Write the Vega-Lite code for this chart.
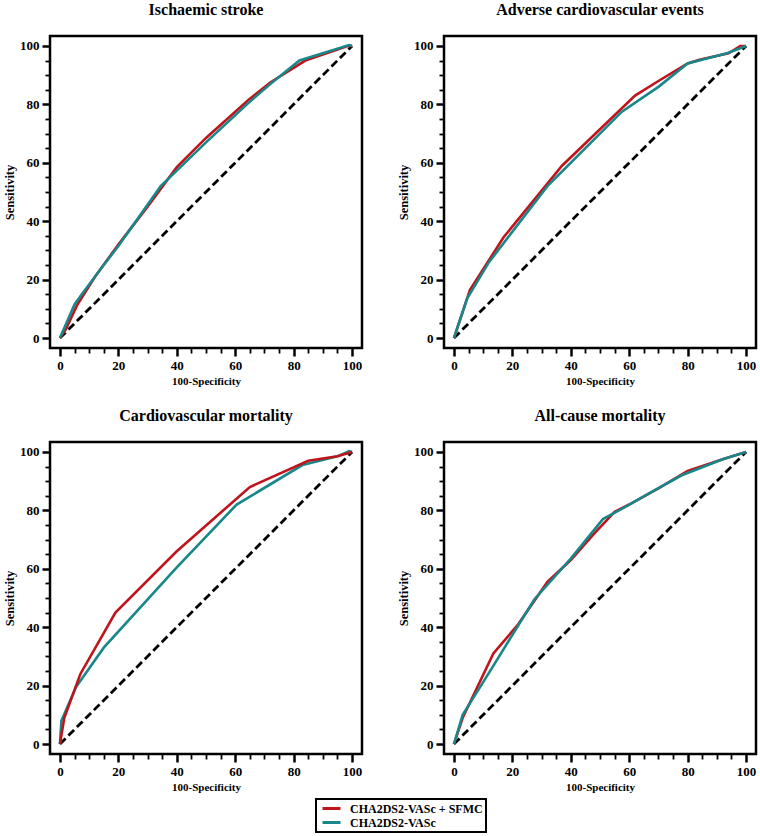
{
  "$schema": "https://vega.github.io/schema/vega-lite/v6.json",
  "padding": {"left": 2, "top": 0, "right": 0, "bottom": 0},
  "background": "white",
  "datasets": {
    "diag": [{"x": 0, "y": 0}, {"x": 100, "y": 100}],
    "roc": [
      {"p": "IS", "s": "CHA2DS2-VASc + SFMC", "x": 0, "y": 0},
      {"p": "IS", "s": "CHA2DS2-VASc + SFMC", "x": 2, "y": 3},
      {"p": "IS", "s": "CHA2DS2-VASc + SFMC", "x": 6, "y": 11.5},
      {"p": "IS", "s": "CHA2DS2-VASc + SFMC", "x": 12, "y": 21},
      {"p": "IS", "s": "CHA2DS2-VASc + SFMC", "x": 20, "y": 32},
      {"p": "IS", "s": "CHA2DS2-VASc + SFMC", "x": 30, "y": 45},
      {"p": "IS", "s": "CHA2DS2-VASc + SFMC", "x": 40, "y": 58.5},
      {"p": "IS", "s": "CHA2DS2-VASc + SFMC", "x": 50, "y": 68.5},
      {"p": "IS", "s": "CHA2DS2-VASc + SFMC", "x": 64.5, "y": 81.5},
      {"p": "IS", "s": "CHA2DS2-VASc + SFMC", "x": 72, "y": 87.5},
      {"p": "IS", "s": "CHA2DS2-VASc + SFMC", "x": 84, "y": 95},
      {"p": "IS", "s": "CHA2DS2-VASc + SFMC", "x": 98.5, "y": 100},
      {"p": "IS", "s": "CHA2DS2-VASc + SFMC", "x": 100, "y": 100},
      {"p": "IS", "s": "CHA2DS2-VASc", "x": 0, "y": 0},
      {"p": "IS", "s": "CHA2DS2-VASc", "x": 5, "y": 11.5},
      {"p": "IS", "s": "CHA2DS2-VASc", "x": 7.5, "y": 15},
      {"p": "IS", "s": "CHA2DS2-VASc", "x": 15, "y": 25},
      {"p": "IS", "s": "CHA2DS2-VASc", "x": 20, "y": 31.5},
      {"p": "IS", "s": "CHA2DS2-VASc", "x": 34.5, "y": 52},
      {"p": "IS", "s": "CHA2DS2-VASc", "x": 50, "y": 67},
      {"p": "IS", "s": "CHA2DS2-VASc", "x": 64, "y": 80},
      {"p": "IS", "s": "CHA2DS2-VASc", "x": 72, "y": 87},
      {"p": "IS", "s": "CHA2DS2-VASc", "x": 82, "y": 95},
      {"p": "IS", "s": "CHA2DS2-VASc", "x": 99, "y": 100.3},
      {"p": "IS", "s": "CHA2DS2-VASc", "x": 100, "y": 100},
      {"p": "ACE", "s": "CHA2DS2-VASc + SFMC", "x": 0, "y": 0},
      {"p": "ACE", "s": "CHA2DS2-VASc + SFMC", "x": 5.5, "y": 16.5},
      {"p": "ACE", "s": "CHA2DS2-VASc + SFMC", "x": 17, "y": 34.5},
      {"p": "ACE", "s": "CHA2DS2-VASc + SFMC", "x": 37, "y": 59},
      {"p": "ACE", "s": "CHA2DS2-VASc + SFMC", "x": 62, "y": 83},
      {"p": "ACE", "s": "CHA2DS2-VASc + SFMC", "x": 70, "y": 88},
      {"p": "ACE", "s": "CHA2DS2-VASc + SFMC", "x": 80, "y": 94},
      {"p": "ACE", "s": "CHA2DS2-VASc + SFMC", "x": 84, "y": 95.3},
      {"p": "ACE", "s": "CHA2DS2-VASc + SFMC", "x": 94, "y": 97.5},
      {"p": "ACE", "s": "CHA2DS2-VASc + SFMC", "x": 98, "y": 100},
      {"p": "ACE", "s": "CHA2DS2-VASc + SFMC", "x": 100, "y": 100},
      {"p": "ACE", "s": "CHA2DS2-VASc", "x": 0, "y": 0},
      {"p": "ACE", "s": "CHA2DS2-VASc", "x": 4.5, "y": 13.5},
      {"p": "ACE", "s": "CHA2DS2-VASc", "x": 12, "y": 26},
      {"p": "ACE", "s": "CHA2DS2-VASc", "x": 32, "y": 52},
      {"p": "ACE", "s": "CHA2DS2-VASc", "x": 57.5, "y": 77.5},
      {"p": "ACE", "s": "CHA2DS2-VASc", "x": 70, "y": 86},
      {"p": "ACE", "s": "CHA2DS2-VASc", "x": 80, "y": 94},
      {"p": "ACE", "s": "CHA2DS2-VASc", "x": 93.5, "y": 97.5},
      {"p": "ACE", "s": "CHA2DS2-VASc", "x": 100, "y": 100},
      {"p": "CVM", "s": "CHA2DS2-VASc + SFMC", "x": 0, "y": 0},
      {"p": "CVM", "s": "CHA2DS2-VASc + SFMC", "x": 1.5, "y": 9},
      {"p": "CVM", "s": "CHA2DS2-VASc + SFMC", "x": 7, "y": 24},
      {"p": "CVM", "s": "CHA2DS2-VASc + SFMC", "x": 19, "y": 45},
      {"p": "CVM", "s": "CHA2DS2-VASc + SFMC", "x": 40, "y": 66},
      {"p": "CVM", "s": "CHA2DS2-VASc + SFMC", "x": 65, "y": 88},
      {"p": "CVM", "s": "CHA2DS2-VASc + SFMC", "x": 85, "y": 97},
      {"p": "CVM", "s": "CHA2DS2-VASc + SFMC", "x": 95, "y": 98.5},
      {"p": "CVM", "s": "CHA2DS2-VASc + SFMC", "x": 100, "y": 100},
      {"p": "CVM", "s": "CHA2DS2-VASc", "x": 0, "y": 0},
      {"p": "CVM", "s": "CHA2DS2-VASc", "x": 0.5, "y": 8},
      {"p": "CVM", "s": "CHA2DS2-VASc", "x": 5.5, "y": 19.5},
      {"p": "CVM", "s": "CHA2DS2-VASc", "x": 15, "y": 33},
      {"p": "CVM", "s": "CHA2DS2-VASc", "x": 40, "y": 60.5},
      {"p": "CVM", "s": "CHA2DS2-VASc", "x": 60.5, "y": 82},
      {"p": "CVM", "s": "CHA2DS2-VASc", "x": 83, "y": 95.5},
      {"p": "CVM", "s": "CHA2DS2-VASc", "x": 95, "y": 98.5},
      {"p": "CVM", "s": "CHA2DS2-VASc", "x": 99, "y": 100.3},
      {"p": "CVM", "s": "CHA2DS2-VASc", "x": 100, "y": 100},
      {"p": "ACM", "s": "CHA2DS2-VASc + SFMC", "x": 0, "y": 0},
      {"p": "ACM", "s": "CHA2DS2-VASc + SFMC", "x": 3, "y": 9},
      {"p": "ACM", "s": "CHA2DS2-VASc + SFMC", "x": 13.5, "y": 31},
      {"p": "ACM", "s": "CHA2DS2-VASc + SFMC", "x": 22, "y": 41},
      {"p": "ACM", "s": "CHA2DS2-VASc + SFMC", "x": 32, "y": 55.5},
      {"p": "ACM", "s": "CHA2DS2-VASc + SFMC", "x": 40, "y": 63},
      {"p": "ACM", "s": "CHA2DS2-VASc + SFMC", "x": 48, "y": 72},
      {"p": "ACM", "s": "CHA2DS2-VASc + SFMC", "x": 55, "y": 79.5},
      {"p": "ACM", "s": "CHA2DS2-VASc + SFMC", "x": 60, "y": 82},
      {"p": "ACM", "s": "CHA2DS2-VASc + SFMC", "x": 70, "y": 87.5},
      {"p": "ACM", "s": "CHA2DS2-VASc + SFMC", "x": 80, "y": 93.5},
      {"p": "ACM", "s": "CHA2DS2-VASc + SFMC", "x": 92, "y": 97.5},
      {"p": "ACM", "s": "CHA2DS2-VASc + SFMC", "x": 100, "y": 100},
      {"p": "ACM", "s": "CHA2DS2-VASc", "x": 0, "y": 0},
      {"p": "ACM", "s": "CHA2DS2-VASc", "x": 3, "y": 10},
      {"p": "ACM", "s": "CHA2DS2-VASc", "x": 13, "y": 26},
      {"p": "ACM", "s": "CHA2DS2-VASc", "x": 27.5, "y": 49.5},
      {"p": "ACM", "s": "CHA2DS2-VASc", "x": 40, "y": 63.5},
      {"p": "ACM", "s": "CHA2DS2-VASc", "x": 51, "y": 77},
      {"p": "ACM", "s": "CHA2DS2-VASc", "x": 56.5, "y": 80},
      {"p": "ACM", "s": "CHA2DS2-VASc", "x": 68, "y": 86.5},
      {"p": "ACM", "s": "CHA2DS2-VASc", "x": 78, "y": 92},
      {"p": "ACM", "s": "CHA2DS2-VASc", "x": 92, "y": 97.5},
      {"p": "ACM", "s": "CHA2DS2-VASc", "x": 100, "y": 100}
    ]
  },
  "vconcat": [
    {
      "hconcat": [
        {
          "title": "Ischaemic stroke",
          "width": 312, "height": 312,
          "encoding": {
            "x": {"field": "x", "type": "quantitative", "title": "100-Specificity", "scale": {"domain": [-3.4, 103.4], "nice": false, "zero": false},
              "axis": {"values": [0,5,10,15,20,25,30,35,40,45,50,55,60,65,70,75,80,85,90,95,100], "labelExpr": "datum.value % 20 === 0 ? datum.label : ''", "tickSize": {"condition": {"test": "datum.value % 20 === 0", "value": 8}, "value": 5}, "tickWidth": {"condition": {"test": "datum.value % 20 === 0", "value": 2.5}, "value": 1.8}}},
            "y": {"field": "y", "type": "quantitative", "title": "Sensitivity", "scale": {"domain": [-3.4, 103.4], "nice": false, "zero": false},
              "axis": {"values": [0,5,10,15,20,25,30,35,40,45,50,55,60,65,70,75,80,85,90,95,100], "labelExpr": "datum.value % 20 === 0 ? datum.label : ''", "tickSize": {"condition": {"test": "datum.value % 20 === 0", "value": 8}, "value": 5}, "tickWidth": {"condition": {"test": "datum.value % 20 === 0", "value": 2.5}, "value": 1.8}}}
          },
          "layer": [
            {"data": {"name": "diag"}, "mark": {"type": "line", "color": "black", "strokeDash": [8, 4], "strokeWidth": 2.8}},
            {"data": {"name": "roc"}, "transform": [{"filter": "datum.p === 'IS' && datum.s === 'CHA2DS2-VASc + SFMC'"}], "mark": {"type": "line", "strokeWidth": 2.6}, "encoding": {"color": {"field": "s", "type": "nominal", "scale": {"domain": ["CHA2DS2-VASc + SFMC", "CHA2DS2-VASc"], "range": ["#c0141c", "#17878a"]}, "legend": {"encode": {"legend": {"update": {"strokeWidth": {"value": 2}}}}}}}},
            {"data": {"name": "roc"}, "transform": [{"filter": "datum.p === 'IS' && datum.s === 'CHA2DS2-VASc'"}], "mark": {"type": "line", "strokeWidth": 2.6}, "encoding": {"color": {"field": "s", "type": "nominal"}}}
          ]
        },
        {
          "title": "Adverse cardiovascular events",
          "width": 312, "height": 312,
          "encoding": {
            "x": {"field": "x", "type": "quantitative", "title": "100-Specificity", "scale": {"domain": [-3.4, 103.4], "nice": false, "zero": false},
              "axis": {"values": [0,5,10,15,20,25,30,35,40,45,50,55,60,65,70,75,80,85,90,95,100], "labelExpr": "datum.value % 20 === 0 ? datum.label : ''", "tickSize": {"condition": {"test": "datum.value % 20 === 0", "value": 8}, "value": 5}, "tickWidth": {"condition": {"test": "datum.value % 20 === 0", "value": 2.5}, "value": 1.8}}},
            "y": {"field": "y", "type": "quantitative", "title": "Sensitivity", "scale": {"domain": [-3.4, 103.4], "nice": false, "zero": false},
              "axis": {"values": [0,5,10,15,20,25,30,35,40,45,50,55,60,65,70,75,80,85,90,95,100], "labelExpr": "datum.value % 20 === 0 ? datum.label : ''", "tickSize": {"condition": {"test": "datum.value % 20 === 0", "value": 8}, "value": 5}, "tickWidth": {"condition": {"test": "datum.value % 20 === 0", "value": 2.5}, "value": 1.8}}}
          },
          "layer": [
            {"data": {"name": "diag"}, "mark": {"type": "line", "color": "black", "strokeDash": [8, 4], "strokeWidth": 2.8}},
            {"data": {"name": "roc"}, "transform": [{"filter": "datum.p === 'ACE' && datum.s === 'CHA2DS2-VASc + SFMC'"}], "mark": {"type": "line", "strokeWidth": 2.6}, "encoding": {"color": {"field": "s", "type": "nominal"}}},
            {"data": {"name": "roc"}, "transform": [{"filter": "datum.p === 'ACE' && datum.s === 'CHA2DS2-VASc'"}], "mark": {"type": "line", "strokeWidth": 2.6}, "encoding": {"color": {"field": "s", "type": "nominal"}}}
          ]
        }
      ]
    },
    {
      "hconcat": [
        {
          "title": "Cardiovascular mortality",
          "width": 312, "height": 312,
          "encoding": {
            "x": {"field": "x", "type": "quantitative", "title": "100-Specificity", "scale": {"domain": [-3.4, 103.4], "nice": false, "zero": false},
              "axis": {"values": [0,5,10,15,20,25,30,35,40,45,50,55,60,65,70,75,80,85,90,95,100], "labelExpr": "datum.value % 20 === 0 ? datum.label : ''", "tickSize": {"condition": {"test": "datum.value % 20 === 0", "value": 8}, "value": 5}, "tickWidth": {"condition": {"test": "datum.value % 20 === 0", "value": 2.5}, "value": 1.8}}},
            "y": {"field": "y", "type": "quantitative", "title": "Sensitivity", "scale": {"domain": [-3.4, 103.4], "nice": false, "zero": false},
              "axis": {"values": [0,5,10,15,20,25,30,35,40,45,50,55,60,65,70,75,80,85,90,95,100], "labelExpr": "datum.value % 20 === 0 ? datum.label : ''", "tickSize": {"condition": {"test": "datum.value % 20 === 0", "value": 8}, "value": 5}, "tickWidth": {"condition": {"test": "datum.value % 20 === 0", "value": 2.5}, "value": 1.8}}}
          },
          "layer": [
            {"data": {"name": "diag"}, "mark": {"type": "line", "color": "black", "strokeDash": [8, 4], "strokeWidth": 2.8}},
            {"data": {"name": "roc"}, "transform": [{"filter": "datum.p === 'CVM' && datum.s === 'CHA2DS2-VASc'"}], "mark": {"type": "line", "strokeWidth": 2.6}, "encoding": {"color": {"field": "s", "type": "nominal"}}},
            {"data": {"name": "roc"}, "transform": [{"filter": "datum.p === 'CVM' && datum.s === 'CHA2DS2-VASc + SFMC'"}], "mark": {"type": "line", "strokeWidth": 2.6}, "encoding": {"color": {"field": "s", "type": "nominal"}}}
          ]
        },
        {
          "title": "All-cause mortality",
          "width": 312, "height": 312,
          "encoding": {
            "x": {"field": "x", "type": "quantitative", "title": "100-Specificity", "scale": {"domain": [-3.4, 103.4], "nice": false, "zero": false},
              "axis": {"values": [0,5,10,15,20,25,30,35,40,45,50,55,60,65,70,75,80,85,90,95,100], "labelExpr": "datum.value % 20 === 0 ? datum.label : ''", "tickSize": {"condition": {"test": "datum.value % 20 === 0", "value": 8}, "value": 5}, "tickWidth": {"condition": {"test": "datum.value % 20 === 0", "value": 2.5}, "value": 1.8}}},
            "y": {"field": "y", "type": "quantitative", "title": "Sensitivity", "scale": {"domain": [-3.4, 103.4], "nice": false, "zero": false},
              "axis": {"values": [0,5,10,15,20,25,30,35,40,45,50,55,60,65,70,75,80,85,90,95,100], "labelExpr": "datum.value % 20 === 0 ? datum.label : ''", "tickSize": {"condition": {"test": "datum.value % 20 === 0", "value": 8}, "value": 5}, "tickWidth": {"condition": {"test": "datum.value % 20 === 0", "value": 2.5}, "value": 1.8}}}
          },
          "layer": [
            {"data": {"name": "diag"}, "mark": {"type": "line", "color": "black", "strokeDash": [8, 4], "strokeWidth": 2.8}},
            {"data": {"name": "roc"}, "transform": [{"filter": "datum.p === 'ACM' && datum.s === 'CHA2DS2-VASc + SFMC'"}], "mark": {"type": "line", "strokeWidth": 2.6}, "encoding": {"color": {"field": "s", "type": "nominal"}}},
            {"data": {"name": "roc"}, "transform": [{"filter": "datum.p === 'ACM' && datum.s === 'CHA2DS2-VASc'"}], "mark": {"type": "line", "strokeWidth": 2.6}, "encoding": {"color": {"field": "s", "type": "nominal"}}}
          ]
        }
      ]
    }
  ],
  "spacing": 18,
  "resolve": {"scale": {"color": "shared"}},
  "config": {
    "concat": {"spacing": 32},
    "view": {"stroke": "black", "strokeWidth": 2.5},
    "font": "Liberation Serif",
    "title": {"font": "Liberation Serif", "fontSize": 16, "fontWeight": "bold", "color": "black", "anchor": "middle", "offset": 18},
    "axis": {
      "domain": false, "grid": false, "tickColor": "black",
      "labelFont": "Liberation Serif", "labelFontSize": 13, "labelFontWeight": "bold", "labelColor": "black",
      "labelOverlap": false, "labelFlush": false, "labelPadding": 3,
      "titleFont": "Liberation Serif", "titleFontWeight": "bold", "titleColor": "black"
    },
    "axisX": {"titlePadding": 3, "titleFontSize": 11},
    "axisY": {"titlePadding": 3, "titleFontSize": 12.5},
    "legend": {
      "orient": "none", "legendX": 266, "legendY": 763, "title": null,
      "strokeColor": "black", "padding": 3, "symbolType": "stroke", "symbolSize": 324, "symbolStrokeWidth": 3,
      "symbolOffset": 2, "clipHeight": 13,
      "labelFont": "Liberation Serif", "labelFontSize": 12, "labelFontWeight": "bold", "labelColor": "black",
      "rowPadding": 1, "labelOffset": 8
    }
  }
}
